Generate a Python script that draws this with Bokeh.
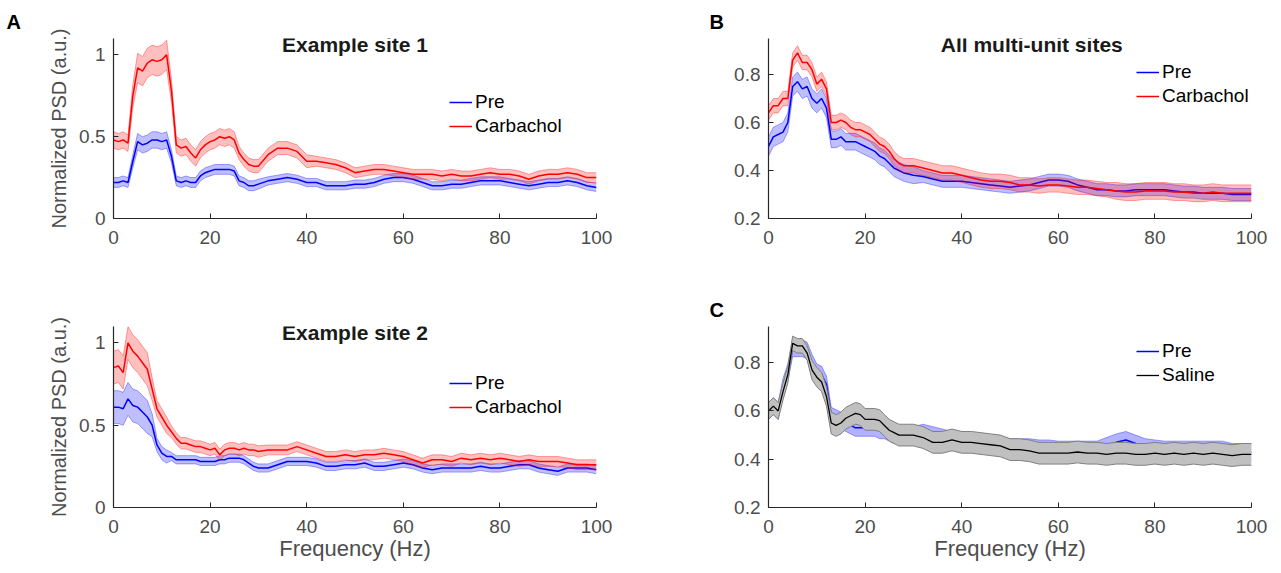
from bokeh.plotting import figure
from bokeh.layouts import row, column
from bokeh.models import ColumnDataSource, Legend, LegendItem, Label, FixedTicker, Range1d
from bokeh.embed import file_html
from bokeh.resources import INLINE

FONT = "Liberation Sans"

# ---------------- data ----------------
freq = [0, 1, 2, 3, 4, 5, 6, 7, 8, 9, 10, 11, 12, 13, 14, 15, 16, 17, 18, 19, 20,
        21, 22, 23, 24, 25, 26, 27, 28, 29, 30,
        32, 34, 36, 38, 40, 42, 44, 46, 48, 50, 52, 54, 56, 58, 60, 62, 64, 66, 68, 70,
        72, 74, 76, 78, 80, 82, 84, 86, 88, 90, 92, 94, 96, 98, 100]

# Example site 1
site1_carb = [0.48, 0.47, 0.48, 0.46, 0.75, 0.92, 0.90, 0.95, 0.97, 0.96, 0.97, 1.00, 0.78, 0.45, 0.43, 0.44,
              0.40, 0.37, 0.42, 0.45, 0.47, 0.48, 0.50, 0.49, 0.50, 0.48, 0.40, 0.36, 0.33, 0.32, 0.32,
              0.39, 0.43, 0.43, 0.41, 0.35, 0.35, 0.34, 0.33, 0.31, 0.28, 0.29, 0.30, 0.30, 0.29, 0.28,
              0.27, 0.27, 0.27, 0.26, 0.27, 0.26, 0.26, 0.27, 0.28, 0.27, 0.27, 0.26, 0.24, 0.26, 0.27,
              0.27, 0.28, 0.27, 0.25, 0.25]
site1_carb_err = ([0.05] * 4 + [0.07] + [0.09] * 7 + [0.07] + [0.05] * 13 + [0.04] * 5
                  + [0.04] * 5 + [0.03] * 30)
site1_pre = [0.22, 0.22, 0.23, 0.22, 0.35, 0.47, 0.45, 0.46, 0.48, 0.48, 0.47, 0.48, 0.38, 0.23, 0.22, 0.23,
             0.22, 0.22, 0.26, 0.28, 0.29, 0.30, 0.30, 0.30, 0.30, 0.29, 0.23, 0.22, 0.20, 0.20, 0.21,
             0.23, 0.24, 0.25, 0.24, 0.22, 0.22, 0.20, 0.20, 0.20, 0.21, 0.21, 0.22, 0.24, 0.25, 0.25,
             0.24, 0.22, 0.20, 0.20, 0.21, 0.21, 0.22, 0.23, 0.23, 0.23, 0.22, 0.21, 0.20, 0.21, 0.22,
             0.22, 0.23, 0.22, 0.20, 0.19]
site1_pre_err = [0.03] * 4 + [0.04] + [0.05] * 7 + [0.04] + [0.03] * 18 + [0.025] * 35

# Example site 2
site2_carb = [0.85, 0.86, 0.82, 1.00, 0.95, 0.92, 0.88, 0.84, 0.72, 0.60, 0.55, 0.50, 0.46, 0.42, 0.39, 0.39,
              0.38, 0.37, 0.37, 0.36, 0.35, 0.36, 0.32, 0.35, 0.36, 0.36, 0.35, 0.36, 0.35, 0.35, 0.34,
              0.35, 0.35, 0.35, 0.37, 0.35, 0.33, 0.31, 0.31, 0.32, 0.31, 0.32, 0.32, 0.33, 0.32, 0.31,
              0.29, 0.27, 0.29, 0.29, 0.28, 0.30, 0.29, 0.30, 0.29, 0.30, 0.29, 0.28, 0.29, 0.28, 0.28,
              0.28, 0.27, 0.26, 0.26, 0.26]
site2_carb_err = [0.10] * 8 + [0.07] + [0.05] * 3 + [0.035] * 19 + [0.03] * 35
site2_pre = [0.61, 0.61, 0.60, 0.66, 0.62, 0.61, 0.58, 0.55, 0.50, 0.38, 0.33, 0.31, 0.31, 0.29, 0.29, 0.29,
             0.29, 0.29, 0.28, 0.28, 0.28, 0.28, 0.29, 0.29, 0.30, 0.30, 0.30, 0.29, 0.27, 0.25, 0.24,
             0.24, 0.26, 0.28, 0.28, 0.28, 0.27, 0.25, 0.25, 0.26, 0.26, 0.27, 0.25, 0.25, 0.26, 0.27,
             0.26, 0.24, 0.23, 0.24, 0.24, 0.24, 0.24, 0.25, 0.24, 0.24, 0.25, 0.26, 0.26, 0.24, 0.23,
             0.22, 0.24, 0.24, 0.24, 0.23]
site2_pre_err = [0.10] * 8 + [0.07] + [0.04] * 3 + [0.025] * 19 + [0.025] * 35

# All multi-unit sites
all_carb = [0.64, 0.67, 0.67, 0.70, 0.70, 0.86, 0.89, 0.85, 0.85, 0.82, 0.76, 0.78, 0.74, 0.60, 0.60, 0.61,
            0.60, 0.58, 0.57, 0.57, 0.56, 0.55, 0.53, 0.51, 0.50, 0.48, 0.45, 0.43, 0.42, 0.42, 0.42,
            0.41, 0.40, 0.39, 0.39, 0.38, 0.37, 0.36, 0.355, 0.355, 0.35, 0.34, 0.34, 0.335, 0.34, 0.34,
            0.335, 0.33, 0.33, 0.325, 0.32, 0.315, 0.31, 0.31, 0.315, 0.315, 0.315, 0.31, 0.31, 0.305, 0.305,
            0.31, 0.305, 0.305, 0.305, 0.305]
all_carb_err = [0.03] * 31 + [0.03] * 20 + [0.035] * 15
all_pre = [0.50, 0.54, 0.55, 0.56, 0.60, 0.75, 0.77, 0.74, 0.75, 0.70, 0.68, 0.70, 0.66, 0.53, 0.53, 0.54,
           0.52, 0.52, 0.52, 0.51, 0.50, 0.49, 0.48, 0.46, 0.45, 0.43, 0.41, 0.40, 0.39, 0.385, 0.38,
           0.375, 0.365, 0.355, 0.355, 0.355, 0.35, 0.345, 0.34, 0.335, 0.33, 0.335, 0.34, 0.35, 0.36, 0.36,
           0.355, 0.34, 0.33, 0.32, 0.32, 0.315, 0.315, 0.32, 0.32, 0.32, 0.32, 0.315, 0.31, 0.31, 0.305,
           0.305, 0.305, 0.30, 0.30, 0.30]
all_pre_err = [0.04] * 13 + [0.035] * 18 + [0.025] * 35

# Saline control
sal_pre = [0.60, 0.62, 0.60, 0.70, 0.76, 0.86, 0.86, 0.86, 0.85, 0.80, 0.76, 0.75, 0.71, 0.58, 0.57, 0.56,
           0.55, 0.54, 0.53, 0.53, 0.53, 0.53, 0.53, 0.52, 0.52, 0.51, 0.50, 0.50, 0.50, 0.50, 0.50,
           0.51, 0.50, 0.49, 0.48, 0.48, 0.475, 0.47, 0.465, 0.46, 0.45, 0.45, 0.45, 0.445, 0.445, 0.44,
           0.44, 0.44, 0.44, 0.44, 0.455, 0.47, 0.48, 0.465, 0.45, 0.445, 0.44, 0.44, 0.44, 0.44, 0.44,
           0.44, 0.44, 0.43, 0.43, 0.43]
sal_pre_err = [0.035] * 66
saline = [0.60, 0.62, 0.60, 0.68, 0.75, 0.88, 0.87, 0.87, 0.84, 0.77, 0.74, 0.72, 0.66, 0.55, 0.54, 0.55,
          0.57, 0.58, 0.59, 0.585, 0.565, 0.565, 0.565, 0.56, 0.54, 0.52, 0.51, 0.50, 0.50, 0.50, 0.50,
          0.49, 0.47, 0.47, 0.48, 0.47, 0.47, 0.465, 0.46, 0.455, 0.44, 0.44, 0.435, 0.425, 0.425, 0.425,
          0.425, 0.43, 0.425, 0.425, 0.42, 0.425, 0.425, 0.42, 0.42, 0.425, 0.42, 0.425, 0.42, 0.425, 0.42,
          0.425, 0.42, 0.415, 0.42, 0.42]
saline_err = [0.035] * 5 + [0.03] * 4 + [0.04] * 4 + [0.045] * 18 + [0.045] * 35

x_ticks = [0, 20, 40, 60, 80, 100]
yticks_a = [0, 0.5, 1]
yticks_a_labels = ["0", "0.5", "1"]
yticks_b = [0.2, 0.4, 0.6, 0.8]
yticks_b_labels = ["0.2", "0.4", "0.6", "0.8"]

BLUE = "#0000ff"
RED = "#ff0000"
AX = "#262626"
TXT = "#4d4d4d"


def make_fig(yr, yticks, ylabels, frame_h, mb, ylabel=None, xlabel=None):
    p = figure(frame_width=483, frame_height=frame_h,
               x_range=Range1d(0, 100), y_range=Range1d(*yr),
               output_backend="svg", toolbar_location=None,
               min_border_left=mb[0], min_border_right=mb[1],
               min_border_top=mb[2], min_border_bottom=mb[3])
    p.xgrid.visible = False
    p.ygrid.visible = False
    p.outline_line_color = None
    p.background_fill_color = "white"
    p.border_fill_color = "white"
    p.xaxis.ticker = FixedTicker(ticks=x_ticks)
    p.yaxis.ticker = FixedTicker(ticks=yticks)
    p.yaxis.major_label_overrides = {t: s for t, s in zip(yticks, ylabels)}
    for ax in (p.xaxis[0], p.yaxis[0]):
        ax.axis_line_color = AX
        ax.axis_line_width = 1.2
        ax.major_tick_line_color = AX
        ax.major_tick_in = 5
        ax.major_tick_out = 0
        ax.minor_tick_line_color = None
        ax.major_label_text_font = FONT
        ax.major_label_text_font_size = "19px"
        ax.major_label_text_color = TXT
        ax.axis_label_text_font = FONT
        ax.axis_label_text_font_style = "normal"
        ax.axis_label_text_color = TXT
    p.yaxis.axis_label_text_font_size = "20px"
    p.xaxis.axis_label_text_font_size = "22px"
    p.xaxis.major_label_standoff = 12
    p.yaxis.major_label_standoff = 8
    if ylabel:
        p.yaxis.axis_label = ylabel
        p.yaxis.axis_label_standoff = 6
    if xlabel:
        p.xaxis.axis_label = xlabel
        p.xaxis.axis_label_standoff = 0
    return p


def band(p, mean, err, color, fill_color=None, fill_alpha=0.25, edge_color=None, edge_alpha=0.35, lw=1.5):
    lo = [m - e for m, e in zip(mean, err)]
    hi = [m + e for m, e in zip(mean, err)]
    src = ColumnDataSource(dict(f=freq, m=mean, lo=lo, hi=hi))
    p.varea(x="f", y1="lo", y2="hi", source=src,
            fill_color=fill_color or color, fill_alpha=fill_alpha)
    p.line("f", "lo", source=src, line_color=edge_color or color, line_alpha=edge_alpha, line_width=1)
    p.line("f", "hi", source=src, line_color=edge_color or color, line_alpha=edge_alpha, line_width=1)
    return p.line("f", "m", source=src, line_color=color, line_width=lw)


def add_legend(p, items, loc):
    lg = Legend(items=[LegendItem(label=l, renderers=[r]) for l, r in items],
                location=loc, border_line_color=None, background_fill_alpha=0,
                padding=0, margin=0, spacing=0, glyph_width=23, glyph_height=24,
                label_height=24, label_standoff=3, label_text_font=FONT,
                label_text_font_size="19px", label_text_color="black")
    p.add_layout(lg)


def add_title(p, text, x, ytop):
    p.add_layout(Label(x=x, y=ytop, y_offset=6, text=text, text_align="center",
                       text_baseline="top", text_font=FONT, text_font_size="21px",
                       text_font_style="bold", text_color="#1a1a1a"))


def set_letter(p, text, xoff, standoff):
    p.title.text = text
    p.title.align = "left"
    p.title.vertical_align = "bottom"
    p.title.offset = xoff
    p.title.standoff = standoff
    p.title.text_font = FONT
    p.title.text_font_size = "20px"
    p.title.text_font_style = "bold"
    p.title.text_color = "black"


# Panel A top
p1 = make_fig((0, 1.1), yticks_a, yticks_a_labels, 180, (113, 94, 38, 70), ylabel="Normalized PSD (a.u.)")
r1p = band(p1, site1_pre, site1_pre_err, BLUE)
r1c = band(p1, site1_carb, site1_carb_err, RED)
add_legend(p1, [("Pre", r1p), ("Carbachol", r1c)], (336, 80))
add_title(p1, "Example site 1", 50, 1.1)
set_letter(p1, "A", -107, 12)

# Panel A bottom
p2 = make_fig((0, 1.1), yticks_a, yticks_a_labels, 181, (113, 94, 38, 58),
              ylabel="Normalized PSD (a.u.)", xlabel="Frequency (Hz)")
r2p = band(p2, site2_pre, site2_pre_err, BLUE)
r2c = band(p2, site2_carb, site2_carb_err, RED)
add_legend(p2, [("Pre", r2p), ("Carbachol", r2c)], (336, 88))
add_title(p2, "Example site 2", 50, 1.1)

# Panel B
p3 = make_fig((0.2, 0.95), yticks_b, yticks_b_labels, 180, (78, 22, 38, 70))
r3p = band(p3, all_pre, all_pre_err, BLUE)
r3c = band(p3, all_carb, all_carb_err, RED)
add_legend(p3, [("Pre", r3p), ("Carbachol", r3c)], (368, 110))
add_title(p3, "All multi-unit sites", 54.5, 0.95)
set_letter(p3, "B", -59, 12)

# Panel C
p4 = make_fig((0.2, 0.95), yticks_b, yticks_b_labels, 181, (78, 22, 38, 58), xlabel="Frequency (Hz)")
r4p = band(p4, sal_pre, sal_pre_err, BLUE, fill_alpha=0.3)
r4s = band(p4, saline, saline_err, "black", fill_color="#c0c0c0", fill_alpha=1.0,
           edge_color="#7f7f7f", edge_alpha=1.0, lw=1.3)
add_legend(p4, [("Pre", r4p), ("Saline", r4s)], (368, 120))
set_letter(p4, "C", -59, 12)

layout = row(column(p1, p2), column(p3, p4))
open("out.html", "w").write(file_html(layout, INLINE))
